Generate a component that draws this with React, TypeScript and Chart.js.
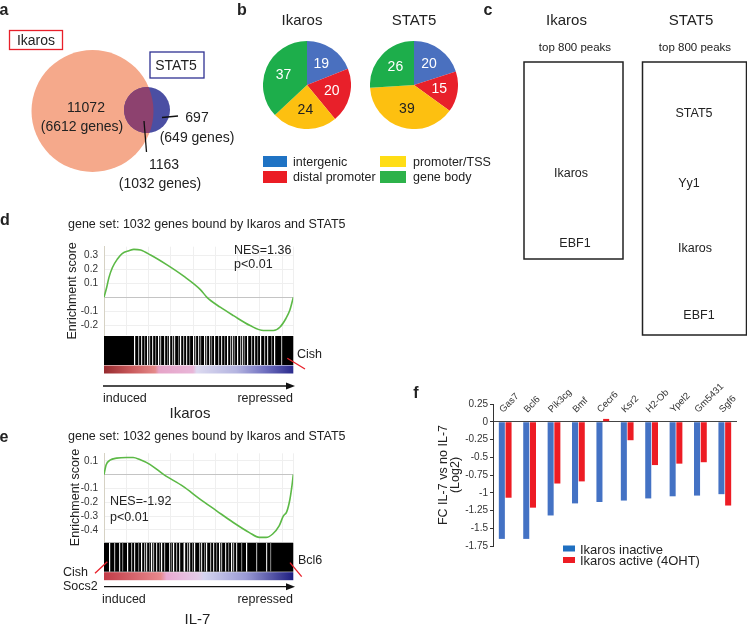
import React, { useEffect, useRef } from "react";
import { Chart, registerables } from "chart.js";
Chart.register(...registerables);

const FONT = "'Liberation Sans', Arial, Helvetica, sans-serif";

// ---------- Panel a (Venn) ----------
const vennIkarosOnly = "11072";
const vennIkarosGenes = "(6612 genes)";
const vennShared = "1163";
const vennSharedGenes = "(1032 genes)";
const vennStat5Only = "697";
const vennStat5Genes = "(649 genes)";

// ---------- Panel b (pies) ----------
const pieCategories = ["intergenic", "distal promoter", "promoter/TSS", "gene body"];
const ikarosPie = [19, 20, 24, 37];
const stat5Pie = [20, 15, 39, 26];
const pieColors = ["#4A70BF", "#E8202A", "#FDC010", "#1DAE4B"];
const pieLegendColors = ["#1F73C4", "#EB1C24", "#FFDD15", "#2DB24A"];
const pieLabelColors = ["#ffffff", "#ffffff", "#222222", "#ffffff"];

// ---------- Panel c (motifs) ----------
const ikarosMotifs = ["Ikaros", "EBF1"];
const stat5Motifs = ["STAT5", "Yy1", "Ikaros", "EBF1"];

// ---------- Panel d (GSEA Ikaros) ----------
const gseaDRank = [0, 0.014, 0.026, 0.044, 0.07, 0.096, 0.132, 0.158, 0.193, 0.246, 0.333, 0.421, 0.509, 0.544, 0.614, 0.684, 0.772, 0.842, 0.895, 0.93, 0.961, 0.982, 1.0];
const gseaDScore = [0, 0.07, 0.14, 0.21, 0.27, 0.31, 0.33, 0.34, 0.335, 0.3, 0.23, 0.15, 0.055, 0, -0.07, -0.13, -0.2, -0.235, -0.235, -0.21, -0.15, -0.09, 0];
const gseaDTicks = [-0.2, -0.1, 0, 0.1, 0.2, 0.3];
const gseaDGaps = [0.158, 0.179, 0.193, 0.211, 0.225, 0.237, 0.254, 0.267, 0.284, 0.298, 0.319, 0.333, 0.346, 0.36, 0.372, 0.389, 0.404, 0.418, 0.435, 0.449, 0.47, 0.482, 0.495, 0.509, 0.526, 0.54, 0.553, 0.565, 0.582, 0.6, 0.618, 0.632, 0.649, 0.663, 0.677, 0.688, 0.702, 0.716, 0.73, 0.742, 0.758, 0.775, 0.793, 0.807, 0.825, 0.846, 0.863, 0.881, 0.898, 0.933];

// ---------- Panel e (GSEA IL-7) ----------
const gseaERank = [0, 0.011, 0.032, 0.067, 0.119, 0.154, 0.189, 0.242, 0.316, 0.418, 0.505, 0.593, 0.681, 0.768, 0.821, 0.856, 0.891, 0.926, 0.947, 0.965, 0.982, 0.993, 1.0];
const gseaEScore = [0, 0.07, 0.105, 0.12, 0.125, 0.125, 0.11, 0.075, 0, -0.085, -0.175, -0.26, -0.345, -0.42, -0.455, -0.455, -0.43, -0.37, -0.3, -0.27, -0.18, -0.08, 0];
const gseaETicks = [-0.4, -0.3, -0.2, -0.1, 0, 0.1];
const gseaEGaps = [0.027, 0.053, 0.08, 0.097, 0.119, 0.142, 0.159, 0.182, 0.195, 0.212, 0.221, 0.239, 0.248, 0.257, 0.274, 0.288, 0.301, 0.319, 0.345, 0.354, 0.366, 0.381, 0.398, 0.416, 0.425, 0.437, 0.451, 0.465, 0.478, 0.504, 0.513, 0.526, 0.54, 0.558, 0.575, 0.593, 0.605, 0.619, 0.637, 0.655, 0.673, 0.681, 0.699, 0.726, 0.752, 0.805, 0.858, 0.876];

// ---------- Panel f (bars) ----------
const genes = ["Gas7", "Bcl6", "Pik3cg", "Bmf", "Cecr6", "Ksr2", "H2-Ob", "Ypel2", "Gm5431", "Sgf6"];
const ikarosInactive = [-1.65, -1.65, -1.32, -1.15, -1.13, -1.11, -1.08, -1.05, -1.04, -1.02];
const ikarosActive = [-1.07, -1.21, -0.87, -0.84, 0.04, -0.26, -0.61, -0.59, -0.57, -1.18];
const fTicks = [0.25, 0, -0.25, -0.5, -0.75, -1, -1.25, -1.5, -1.75];
const fSeries = ["Ikaros inactive", "Ikaros active (4OHT)"];

function ChartBox({ left, top, width, height, make }: any) {
  const ref = useRef<HTMLCanvasElement>(null);
  useEffect(() => {
    const ch = new Chart(ref.current as HTMLCanvasElement, make());
    return () => ch.destroy();
  }, []);
  return (
    <div style={{ position: "absolute", left, top, width, height }}>
      <canvas ref={ref} width={width} height={height} style={{ width, height, display: "block" }} />
    </div>
  );
}

function T({ x, y, s = 13, a = "c", b = false, c = "#222", children }: any) {
  const tx = a === "c" ? "-50%" : a === "r" ? "-100%" : "0";
  return (
    <div
      style={{
        position: "absolute",
        left: x,
        top: y,
        transform: `translate(${tx},-50%)`,
        fontSize: s,
        fontWeight: b ? "bold" : "normal",
        color: c,
        whiteSpace: "nowrap",
        lineHeight: 1,
        fontFamily: FONT,
      }}
    >
      {children}
    </div>
  );
}

const pieLabelPlugin = {
  id: "pieLabels",
  afterDatasetsDraw(chart: any) {
    const { ctx } = chart;
    const meta = chart.getDatasetMeta(0);
    const vals = chart.data.datasets[0].data;
    ctx.save();
    ctx.font = `14px ${FONT}`;
    ctx.textAlign = "center";
    ctx.textBaseline = "middle";
    meta.data.forEach((arc: any, i: number) => {
      const p = arc.getProps(["x", "y", "startAngle", "endAngle", "outerRadius"], true);
      const mid = (p.startAngle + p.endAngle) / 2;
      const r = p.outerRadius * 0.58;
      ctx.fillStyle = pieLabelColors[i];
      ctx.fillText(String(vals[i]), p.x + Math.cos(mid) * r, p.y + Math.sin(mid) * r);
    });
    ctx.restore();
  },
};

function makePie(values: number[]) {
  return () => ({
    type: "pie",
    data: { labels: pieCategories, datasets: [{ data: values, backgroundColor: pieColors, borderWidth: 0 }] },
    options: {
      animation: false,
      responsive: false,
      layout: { padding: 0 },
      plugins: { legend: { display: false }, tooltip: { enabled: false } },
    },
    plugins: [pieLabelPlugin],
  });
}

function makeBarcodePlugin(gaps: number[], stops: [number, string][]) {
  return {
    id: "barcode",
    afterDraw(chart: any) {
      const { ctx, chartArea } = chart;
      const x = chart.scales.x;
      const { left, right, bottom } = chartArea;
      const top = bottom + 1;
      const h = 29;
      ctx.save();
      ctx.fillStyle = "#000";
      ctx.fillRect(left, top, right - left, h);
      const shades = ["#ffffff", "#a8a8a8", "#d8d8d8", "#777777"];
      gaps.forEach((g, i) => {
        const px = x.getPixelForValue(g);
        ctx.fillStyle = shades[i % shades.length];
        ctx.fillRect(Math.round(px), top, 1.2, h);
      });
      const grad = ctx.createLinearGradient(left, 0, right, 0);
      stops.forEach(([o, c]) => grad.addColorStop(o, c));
      ctx.fillStyle = grad;
      ctx.fillRect(left, top + h + 0.5, right - left, 8);
      ctx.restore();
    },
  };
}

function makeGsea(opts: any) {
  return () => ({
    type: "line",
    data: {
      datasets: [
        {
          data: opts.rank.map((r: number, i: number) => ({ x: r, y: opts.score[i] })),
          borderColor: "#5CB946",
          borderWidth: 1.6,
          pointRadius: 0,
          cubicInterpolationMode: "monotone",
          fill: false,
        },
      ],
    },
    options: {
      animation: false,
      responsive: false,
      layout: { padding: { top: opts.pt, right: opts.pr, bottom: opts.pb, left: 0 } },
      plugins: { legend: { display: false }, tooltip: { enabled: false } },
      scales: {
        x: {
          type: "linear",
          min: 0,
          max: 1,
          ticks: { display: false, stepSize: 0.1176 },
          grid: { color: "#efefef", drawTicks: false },
          border: { display: false },
          afterFit: (s: any) => {
            s.height = 0;
            s.paddingLeft = 0;
            s.paddingRight = 0;
          },
        },
        y: {
          min: opts.min,
          max: opts.max,
          afterBuildTicks: (s: any) => {
            s.ticks = opts.ticks.map((v: number) => ({ value: v }));
          },
          ticks: {
            callback: (v: number) => (v === 0 ? "" : String(v)),
            font: { size: 10, family: FONT },
            color: "#333",
            padding: 6,
          },
          grid: {
            color: (c: any) => (c.tick && c.tick.value === 0 ? "#c4c4c4" : "#efefef"),
            drawTicks: false,
          },
          border: { color: "#d6d2c4" },
          title: {
            display: true,
            text: "Enrichment score",
            font: { size: 12.5, family: FONT },
            color: "#222",
            padding: { top: 4, bottom: 0 },
          },
          afterFit: (s: any) => {
            s.width = opts.yw;
            s.paddingTop = 0;
            s.paddingBottom = 0;
          },
        },
      },
    },
    plugins: [makeBarcodePlugin(opts.gaps, opts.stops)],
  });
}

function makeBars() {
  return {
    type: "bar",
    data: {
      labels: genes,
      datasets: [
        { label: fSeries[0], data: ikarosInactive, backgroundColor: "#4472C4" },
        { label: fSeries[1], data: ikarosActive, backgroundColor: "#ED1C24" },
      ],
    },
    options: {
      animation: false,
      responsive: false,
      layout: { padding: { top: 0, right: 10, bottom: 10, left: 0 } },
      datasets: { bar: { categoryPercentage: 0.55, barPercentage: 0.9 } },
      plugins: { legend: { display: false }, tooltip: { enabled: false } },
      scales: {
        x: {
          position: "top",
          grid: { display: false, drawTicks: false },
          border: { display: false },
          ticks: {
            autoSkip: false,
            minRotation: 45,
            maxRotation: 45,
            mirror: true,
            padding: 3,
            labelOffset: -4,
            font: { size: 9.5, family: FONT },
            color: "#333",
          },
          afterFit: (s: any) => {
            s.height = 34;
            s.paddingLeft = 0;
            s.paddingRight = 0;
          },
        },
        y: {
          min: -1.75,
          max: 0.25,
          afterBuildTicks: (s: any) => {
            s.ticks = fTicks.map((v) => ({ value: v }));
          },
          ticks: {
            callback: (v: number) => String(v),
            font: { size: 10, family: FONT },
            color: "#333",
            padding: 2,
          },
          grid: {
            color: (c: any) => (c.tick && c.tick.value === 0 ? "#444" : "rgba(0,0,0,0)"),
            tickColor: "#333",
            tickLength: 3,
            drawTicks: true,
          },
          border: { color: "#333", width: 1 },
          title: {
            display: true,
            text: ["FC IL-7 vs no IL-7", "(Log2)"],
            font: { size: 12.5, family: FONT, lineHeight: 0.95 },
            color: "#222",
            padding: { top: 4, bottom: 0 },
          },
          afterFit: (s: any) => {
            s.width = 59;
            s.paddingTop = 0;
            s.paddingBottom = 0;
          },
        },
      },
    },
  };
}

const dStops: [number, string][] = [
  [0, "#962a2e"],
  [0.14, "#c8585a"],
  [0.27, "#e58a8a"],
  [0.29, "#e6a4c8"],
  [0.47, "#e8b6d8"],
  [0.49, "#dcdaf0"],
  [0.7, "#b4b4e0"],
  [0.85, "#7070c0"],
  [1, "#2a2a8c"],
];
const eStops: [number, string][] = [
  [0, "#c23c48"],
  [0.3, "#e88a8e"],
  [0.33, "#eaaad2"],
  [0.5, "#e4cce8"],
  [0.53, "#d4d4f0"],
  [0.75, "#9a9ad4"],
  [1, "#1e1e80"],
];

export default function App() {
  const red = "#E8202A";
  return (
    <div
      style={{
        position: "absolute",
        left: 0,
        top: 0,
        width: 747,
        height: 624,
        overflow: "hidden",
        background: "#fff",
        fontFamily: FONT,
      }}
    >
      <ChartBox left={263} top={41} width={88} height={88} make={makePie(ikarosPie)} />
      <ChartBox left={370} top={41} width={88} height={88} make={makePie(stat5Pie)} />
      <ChartBox
        left={61}
        top={240}
        width={236}
        height={136}
        make={makeGsea({
          rank: gseaDRank,
          score: gseaDScore,
          ticks: gseaDTicks,
          gaps: gseaDGaps,
          stops: dStops,
          min: -0.267,
          max: 0.359,
          pt: 6.7,
          pr: 3.7,
          pb: 41,
          yw: 43,
        })}
      />
      <ChartBox
        left={64}
        top={446}
        width={236}
        height={136}
        make={makeGsea({
          rank: gseaERank,
          score: gseaEScore,
          ticks: gseaETicks,
          gaps: gseaEGaps,
          stops: eStops,
          min: -0.486,
          max: 0.155,
          pt: 7.3,
          pr: 6.7,
          pb: 40.3,
          yw: 40,
        })}
      />
      <ChartBox left={434} top={370} width={313} height={186} make={makeBars} />

      <svg width={747} height={624} style={{ position: "absolute", left: 0, top: 0, pointerEvents: "none" }}>
        <defs>
          <clipPath id="bigc">
            <circle cx={92.5} cy={111} r={61} />
          </clipPath>
        </defs>
        <circle cx={92.5} cy={111} r={61} fill="#F5A98B" />
        <circle cx={147} cy={110} r={23} fill="#4B4FA3" />
        <circle cx={147} cy={110} r={23} fill="#8D426F" clipPath="url(#bigc)" />
        <line x1={162} y1={117.5} x2={178} y2={116} stroke="#111" strokeWidth={1.3} />
        <line x1={144} y1={121} x2={146.5} y2={152} stroke="#111" strokeWidth={1.3} />
        <rect x={9.5} y={30.5} width={53} height={19} fill="none" stroke={red} strokeWidth={1.3} />
        <rect x={150} y={52} width={54} height={26} fill="none" stroke="#2E3192" strokeWidth={1.3} />

        <rect x={263} y={156} width={24} height={11} fill={pieLegendColors[0]} />
        <rect x={263} y={171} width={24} height={12} fill={pieLegendColors[1]} />
        <rect x={380} y={156} width={26} height={11} fill={pieLegendColors[2]} />
        <rect x={380} y={171} width={26} height={12} fill={pieLegendColors[3]} />

        <rect x={524} y={62} width={99} height={197} fill="none" stroke="#222" strokeWidth={1.5} />
        <rect x={642.5} y={62} width={104} height={273} fill="none" stroke="#222" strokeWidth={1.5} />

        <line x1={287.3} y1={358.3} x2={305} y2={369} stroke={red} strokeWidth={1.3} />
        <line x1={103} y1={386} x2={289} y2={386} stroke="#111" strokeWidth={1.3} />
        <polygon points="295,386 286,382.5 286,389.5" fill="#111" />

        <line x1={95} y1={573.3} x2={107.3} y2={561.7} stroke={red} strokeWidth={1.3} />
        <line x1={290} y1={562.7} x2={301.7} y2={576.7} stroke={red} strokeWidth={1.3} />
        <line x1={104} y1={586.7} x2={289} y2={586.7} stroke="#111" strokeWidth={1.3} />
        <polygon points="295,586.7 286,583.2 286,590.2" fill="#111" />

        <rect x={563} y={545.5} width={12} height={6} fill="#1F6FC0" />
        <rect x={563} y={557} width={12} height={6} fill="#ED1C24" />
      </svg>

      {/* panel a */}
      <T x={4} y={10} s={16} b>a</T>
      <T x={36} y={40} s={14}>Ikaros</T>
      <T x={176} y={65} s={14}>STAT5</T>
      <T x={86} y={107} s={14}>{vennIkarosOnly}</T>
      <T x={82} y={126} s={14}>{vennIkarosGenes}</T>
      <T x={197} y={117} s={14}>{vennStat5Only}</T>
      <T x={197} y={137} s={14}>{vennStat5Genes}</T>
      <T x={164} y={164} s={14}>{vennShared}</T>
      <T x={160} y={183} s={14}>{vennSharedGenes}</T>

      {/* panel b */}
      <T x={242} y={10} s={16} b>b</T>
      <T x={302} y={19} s={15}>Ikaros</T>
      <T x={414} y={19} s={15}>STAT5</T>
      <T x={293} y={162} s={12.5} a="l">{pieCategories[0]}</T>
      <T x={293} y={177} s={12.5} a="l">{pieCategories[1]}</T>
      <T x={413} y={162} s={12.5} a="l">{pieCategories[2]}</T>
      <T x={413} y={177} s={12.5} a="l">{pieCategories[3]}</T>

      {/* panel c */}
      <T x={488} y={10} s={16} b>c</T>
      <T x={566.5} y={19} s={15}>Ikaros</T>
      <T x={691} y={19} s={15}>STAT5</T>
      <T x={575} y={48} s={11.5}>top 800 peaks</T>
      <T x={695} y={48} s={11.5}>top 800 peaks</T>
      <T x={571} y={173} s={12.5}>{ikarosMotifs[0]}</T>
      <T x={575} y={243} s={12.5}>{ikarosMotifs[1]}</T>
      <T x={694} y={113} s={12.5}>{stat5Motifs[0]}</T>
      <T x={689} y={183} s={12.5}>{stat5Motifs[1]}</T>
      <T x={695} y={248} s={12.5}>{stat5Motifs[2]}</T>
      <T x={699} y={315} s={12.5}>{stat5Motifs[3]}</T>

      {/* panel d */}
      <T x={5} y={220} s={16} b>d</T>
      <T x={68} y={224} s={12.5} a="l">gene set: 1032 genes bound by Ikaros and STAT5</T>
      <T x={234} y={250} s={12.5} a="l">NES=1.36</T>
      <T x={234} y={263.5} s={12.5} a="l">p&lt;0.01</T>
      <T x={297} y={354} s={12.5} a="l">Cish</T>
      <T x={103} y={398} s={12.5} a="l">induced</T>
      <T x={293} y={398} s={12.5} a="r">repressed</T>
      <T x={190} y={412} s={15}>Ikaros</T>

      {/* panel e */}
      <T x={4} y={437} s={16} b>e</T>
      <T x={68} y={436} s={12.5} a="l">gene set: 1032 genes bound by Ikaros and STAT5</T>
      <T x={110} y={501} s={12.5} a="l">NES=-1.92</T>
      <T x={110} y={517} s={12.5} a="l">p&lt;0.01</T>
      <T x={63} y={572} s={12.5} a="l">Cish</T>
      <T x={63} y={585.5} s={12.5} a="l">Socs2</T>
      <T x={298} y={560} s={12.5} a="l">Bcl6</T>
      <T x={102} y={599} s={12.5} a="l">induced</T>
      <T x={293} y={599} s={12.5} a="r">repressed</T>
      <T x={197.5} y={618} s={15}>IL-7</T>

      {/* panel f */}
      <T x={416} y={393} s={16} b>f</T>
      <T x={580} y={548.5} s={13} a="l">{fSeries[0]}</T>
      <T x={580} y={560} s={13} a="l">{fSeries[1]}</T>
    </div>
  );
}
